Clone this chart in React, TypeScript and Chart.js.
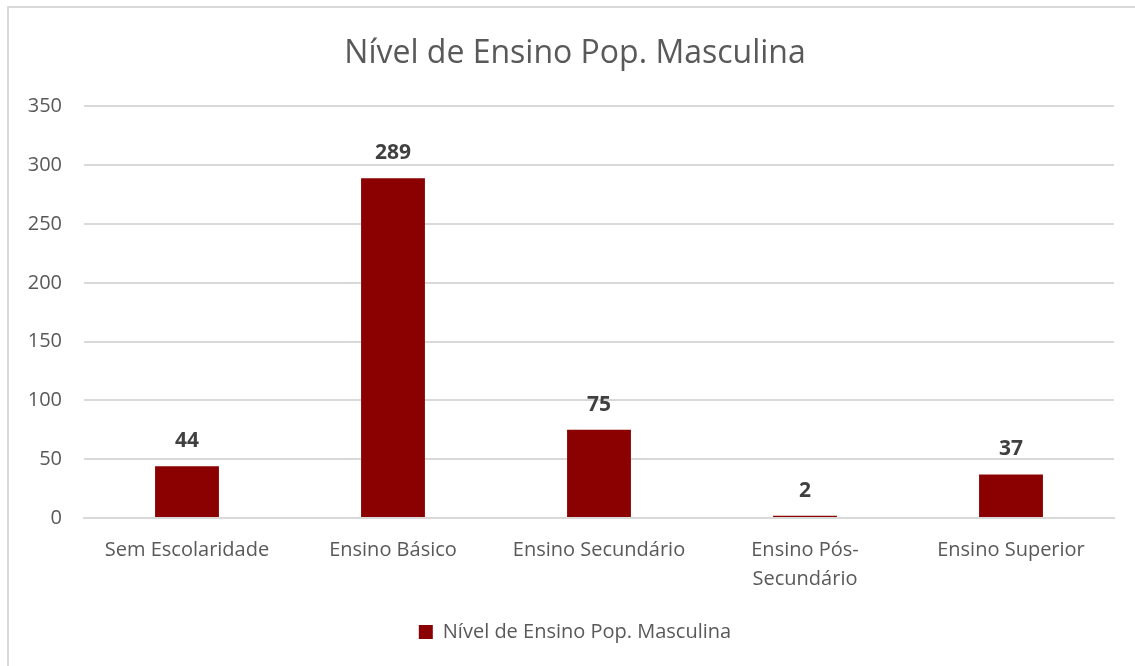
import React, { useEffect, useRef } from "react";
import { Chart, registerables } from "chart.js";

Chart.register(...registerables);

const chartTitle = "Nível de Ensino Pop. Masculina";
const seriesName = "Nível de Ensino Pop. Masculina";
const categories: (string | string[])[] = [
  "Sem Escolaridade",
  "Ensino Básico",
  "Ensino Secundário",
  ["Ensino Pós-", "Secundário"],
  "Ensino Superior",
];
const values = [44, 289, 75, 2, 37];
const yTicks = [0, 50, 100, 150, 200, 250, 300, 350];

const FONT = "'Open Sans', sans-serif";
const BAR_COLOR = "#8B0000";
const TEXT_COLOR = "#595959";
const GRID_COLOR = "#d9d9d9";

const valueLabels = {
  id: "valueLabels",
  afterDatasetsDraw(chart: any) {
    const ctx = chart.ctx;
    const meta = chart.getDatasetMeta(0);
    ctx.save();
    ctx.font = `bold 21px ${FONT}`;
    ctx.fillStyle = "#404040";
    ctx.textAlign = "center";
    ctx.textBaseline = "middle";
    meta.data.forEach((bar: any, i: number) => {
      ctx.fillText(String(chart.data.datasets[0].data[i]), bar.x, bar.y - 25);
    });
    ctx.restore();
  },
};

// let the y-axis label area extend to the canvas left edge (so labels are not clipped)
const widenYAxis = {
  id: "widenYAxis",
  afterLayout(chart: any) {
    const y = chart.scales.y;
    if (y) {
      y.left = 0;
      y.width = y.right;
    }
  },
};

export default function App() {
  const ref = useRef<HTMLCanvasElement>(null);
  useEffect(() => {
    if (!ref.current) return;
    const chart = new Chart(ref.current, {
      type: "bar",
      data: {
        labels: categories,
        datasets: [
          {
            label: seriesName,
            data: values,
            backgroundColor: BAR_COLOR,
            borderColor: BAR_COLOR,
            borderWidth: 0,
            categoryPercentage: 1,
            barPercentage: 0.31,
          },
        ],
      },
      options: {
        animation: false,
        responsive: false,
        maintainAspectRatio: false,
        layout: { padding: { left: 36, right: 21, top: 0, bottom: 14 } },
        plugins: {
          title: {
            display: true,
            text: chartTitle,
            color: TEXT_COLOR,
            font: { family: FONT, size: 32, weight: "normal" },
            padding: { top: 35, bottom: 33 },
          },
          legend: {
            display: true,
            position: "bottom",
            labels: {
              color: TEXT_COLOR,
              font: { family: FONT, size: 20 },
              boxWidth: 14,
              boxHeight: 14,
              padding: 10,
            },
          },
          tooltip: { enabled: false },
        },
        scales: {
          x: {
            grid: { display: false, drawTicks: false },
            border: { display: true, color: GRID_COLOR, width: 2 },
            ticks: {
              color: TEXT_COLOR,
              font: { family: FONT, size: 20, lineHeight: 1.45 },
              padding: 18,
              maxRotation: 0,
              autoSkip: false,
            },
          },
          y: {
            min: 0,
            max: 350,
            afterBuildTicks: (scale: any) => {
              scale.ticks = yTicks.map((v) => ({ value: v }));
            },
            afterFit: (scale: any) => {
              scale.width = 48;
            },
            grid: { color: GRID_COLOR, lineWidth: 2, drawTicks: false },
            border: { display: false },
            ticks: {
              color: TEXT_COLOR,
              font: { family: FONT, size: 20 },
              padding: 22,
            },
          },
        },
      },
      plugins: [valueLabels, widenYAxis],
    });
    return () => chart.destroy();
  }, []);

  return (
    <div
      style={{
        position: "absolute",
        left: 0,
        top: 0,
        width: 1135,
        height: 666,
        overflow: "hidden",
        background: "#fff",
      }}
    >
      <canvas ref={ref} width={1135} height={666} style={{ position: "absolute", left: 0, top: 0 }} />
      <div
        style={{
          position: "absolute",
          left: 7,
          top: 6,
          width: 1300,
          height: 800,
          border: `2px solid ${GRID_COLOR}`,
          pointerEvents: "none",
        }}
      />
    </div>
  );
}
